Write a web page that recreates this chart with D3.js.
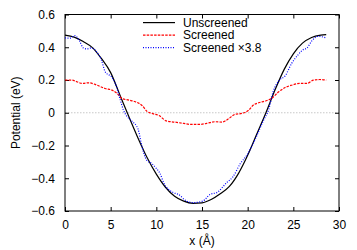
<!DOCTYPE html>
<html>
<head>
<meta charset="utf-8">
<script src="https://cdn.jsdelivr.net/npm/d3@7"></script>
<style>
  body { margin: 0; background: #fff; }
  svg text { font-family: "Liberation Sans", Arial, sans-serif; font-size: 12px; fill: #000; }
</style>
</head>
<body>
<div id="chart"></div>
<script>
// values
const unscreenedX = [0, 1, 2, 3, 4, 5, 6, 7, 8, 9, 10, 11, 12, 13, 14, 15, 16, 17, 18, 19, 20, 21, 22, 23, 24, 25, 26, 27, 28, 28.6];
const unscreenedY = [0.474, 0.462, 0.435, 0.398, 0.33, 0.245, 0.11, -0.025, -0.155, -0.275, -0.375, -0.455, -0.51, -0.54, -0.553, -0.55, -0.53, -0.495, -0.45, -0.37, -0.26, -0.13, 0.0, 0.14, 0.265, 0.36, 0.425, 0.46, 0.474, 0.477];

const screenedX = [0, 0.8, 1.3, 1.9, 2.6, 3.3, 3.9, 4.4, 5.15, 5.7, 6.25, 7.0, 7.7, 8.4, 9.0, 9.5, 10.3, 11.1, 12.0, 13.0, 13.7, 14.8, 15.5, 16.4, 17.2, 17.9, 18.6, 19.35, 20.1, 20.6, 21.2, 21.9, 22.6, 23.4, 24.1, 24.8, 25.7, 26.5, 27.2, 27.9, 28.6];
const screenedY = [0.2, 0.199, 0.189, 0.179, 0.183, 0.173, 0.159, 0.148, 0.138, 0.118, 0.087, 0.077, 0.067, 0.046, 0.008, -0.004, -0.017, -0.05, -0.057, -0.065, -0.071, -0.071, -0.065, -0.055, -0.057, -0.037, -0.01, -0.004, 0.015, 0.046, 0.061, 0.071, 0.087, 0.128, 0.154, 0.168, 0.179, 0.179, 0.199, 0.203, 0.199];

const scaledX = [0, 0.5, 1.1, 1.6, 2.0, 2.4, 2.9, 3.5, 4.0, 4.4, 5.15, 5.5, 6.06, 6.4, 6.75, 7.3, 8.0, 8.4, 8.95, 9.5, 10.0, 10.4, 10.8, 11.86, 12.4, 13.3, 14.05, 15.1, 15.9, 16.6, 17.7, 18.4, 19.2, 19.9, 20.5, 21.0, 21.7, 22.3, 22.8, 23.5, 24.1, 24.8, 25.55, 26.1, 26.5, 27.0, 27.7, 28.6];
const scaledY = [0.457, 0.455, 0.471, 0.437, 0.396, 0.39, 0.396, 0.37, 0.32, 0.25, 0.215, 0.18, 0.077, 0.016, -0.02, -0.05, -0.1, -0.2, -0.29, -0.31, -0.34, -0.37, -0.427, -0.488, -0.498, -0.539, -0.549, -0.539, -0.498, -0.488, -0.427, -0.39, -0.31, -0.26, -0.2, -0.14, -0.05, 0.02, 0.13, 0.2, 0.225, 0.3, 0.356, 0.386, 0.396, 0.437, 0.467, 0.457];

const xTicks = [0, 5, 10, 15, 20, 25, 30];
const yTicks = [-0.6, -0.4, -0.2, 0, 0.2, 0.4, 0.6];
const seriesNames = ["Unscreened", "Screened", "Screened \u00d73.8"];

const width = 357, height = 250;
const margin = {top: 14.5, right: 18, bottom: 39, left: 65};
const innerW = width - margin.left - margin.right;
const innerH = height - margin.top - margin.bottom;

const svg = d3.select("#chart").append("svg")
  .attr("width", width)
  .attr("height", height);

const g = svg.append("g")
  .attr("transform", "translate(" + margin.left + "," + margin.top + ")");

const x = d3.scaleLinear().domain([0, 30]).range([0, innerW]);
const y = d3.scaleLinear().domain([-0.6, 0.6]).range([innerH, 0]);

// zero line
g.append("line")
  .attr("x1", 0).attr("x2", innerW)
  .attr("y1", y(0)).attr("y2", y(0))
  .attr("stroke", "#bbb")
  .attr("stroke-width", 0.8)
  .attr("stroke-dasharray", "1.5,1.5");

// axes, ticks inward and mirrored
const fmt = d => d === 0 ? "0" : d3.format(".1f")(d);
const axisB = d3.axisBottom(x).tickValues(xTicks).tickSize(-4).tickPadding(9).tickFormat(d3.format("d"));
const axisT = d3.axisTop(x).tickValues(xTicks).tickSize(-4).tickFormat("");
const axisL = d3.axisLeft(y).tickValues(yTicks).tickSize(-4).tickPadding(10).tickFormat(fmt);
const axisR = d3.axisRight(y).tickValues(yTicks).tickSize(-4).tickFormat("");

g.append("g").attr("transform", "translate(0," + innerH + ")").call(axisB);
g.append("g").call(axisT);
g.append("g").call(axisL);
g.append("g").attr("transform", "translate(" + innerW + ",0)").call(axisR);

g.selectAll(".domain").remove();
g.selectAll(".tick line").attr("stroke", "#000");
g.selectAll(".tick text").attr("font-size", 12).attr("font-family", "Liberation Sans, Arial, sans-serif");

g.append("rect")
  .attr("x", 0).attr("y", 0)
  .attr("width", innerW).attr("height", innerH)
  .attr("fill", "none")
  .attr("stroke", "#000")
  .attr("stroke-width", 1);

const line = d3.line()
  .x(d => x(d[0]))
  .y(d => y(d[1]))
  .curve(d3.curveMonotoneX);

const series = [
  {name: seriesNames[0], xs: unscreenedX, ys: unscreenedY, color: "#000", dash: null},
  {name: seriesNames[1], xs: screenedX, ys: screenedY, color: "#ff0000", dash: "2.5,1.2"},
  {name: seriesNames[2], xs: scaledX, ys: scaledY, color: "#0000ff", dash: "1,1.5"}
];

series.forEach(s => {
  g.append("path")
    .datum(s.xs.map((v, i) => [v, s.ys[i]]))
    .attr("fill", "none")
    .attr("stroke", s.color)
    .attr("stroke-width", 1.2)
    .attr("stroke-dasharray", s.dash)
    .attr("d", line);
});

// legend
const legend = svg.append("g");
series.forEach((s, i) => {
  const ly = 22.6 + i * 12.5;
  legend.append("line")
    .attr("x1", 143).attr("x2", 175)
    .attr("y1", ly).attr("y2", ly)
    .attr("stroke", s.color)
    .attr("stroke-width", 1.2)
    .attr("stroke-dasharray", s.dash);
  legend.append("text")
    .attr("x", 183).attr("y", ly + 4)
    .attr("font-size", 10.8)
    .text(s.name);
});

// axis titles
svg.append("text")
  .attr("x", margin.left + innerW / 2)
  .attr("y", 245)
  .attr("text-anchor", "middle")
  .text("x (\u00c5)");

svg.append("text")
  .attr("transform", "translate(20," + (margin.top + innerH / 2) + ") rotate(-90)")
  .attr("text-anchor", "middle")
  .text("Potential (eV)");
</script>
</body>
</html>
